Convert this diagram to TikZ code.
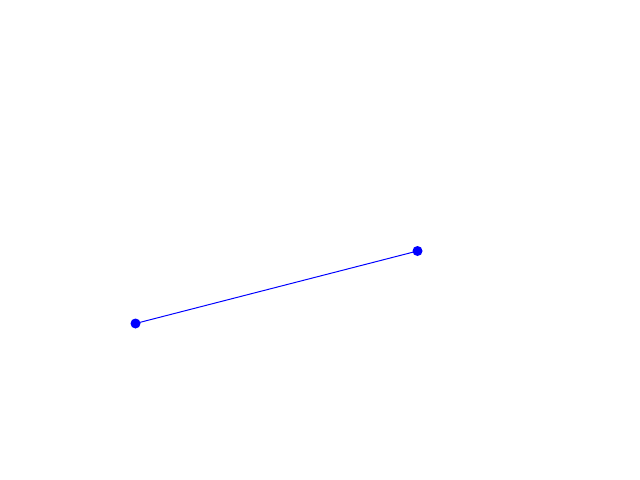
\documentclass[tikz,border=0pt]{standalone}
\usetikzlibrary{calc}

\begin{document}
\begin{tikzpicture}[x=0.025cm, y=-0.025cm]
			
			% parameters
			\def\dotrad{5}       % dot radius
			
			% canvas
			\useasboundingbox (0,0) rectangle (640,480);
			
			% end points
			\coordinate (P) at (135.5,323.5);
			\coordinate (Q) at (417.5,251);
			
			% segment
			\draw[blue, line width=0.7pt] (P) -- (Q);
			
			% dots
			\fill[blue] (P) circle (\dotrad);
			\fill[blue] (Q) circle (\dotrad);
		\end{tikzpicture}
\end{document}
